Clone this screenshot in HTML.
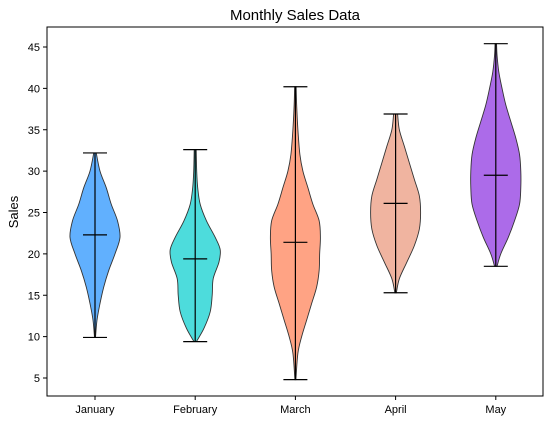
<!DOCTYPE html>
<html><head><meta charset="utf-8"><style>
body{margin:0;background:#fff;}
svg text{font-family:"Liberation Sans",sans-serif;}
</style></head><body>
<svg id="chart" width="551" height="422" xmlns="http://www.w3.org/2000/svg">
<rect x="0" y="0" width="551" height="422" fill="#fff"/>
<text x="295" y="20" text-anchor="middle" font-size="15" fill="#000">Monthly Sales Data</text>
<text transform="translate(18,212) rotate(-90)" text-anchor="middle" font-size="13">Sales</text>
<g id="plot"></g>
</svg>
<script>
const categories=["January","February","March","April","May"];
const colors=["#61b0fe","#4ddcdc","#ffa384","#f0b4a0","#ac6be9"];
const mins=[9.9,9.4,4.8,15.3,18.5];
const maxs=[32.2,32.6,40.2,36.9,45.4];
const means=[22.3,19.4,21.4,26.1,29.5];
const yTicks=[5,10,15,20,25,30,35,40,45];
const profVals=[
[9.9,12,14,16,18,20,22,24,26,28,30,32.2],
[9.4,11,13,15,17,19,20.5,22,24,26,28,30,32.6],
[4.8,8,10,12,14,16,18,20,22,24,26,28,30,32,35,38,40.2],
[15.3,17,19,21,23,25,27,29,31,33,35,36.9],
[18.5,20,22,24,26,28,30,32,34,36,38,40,42,44,45.4]];
const profW=[
[0.02,0.08,0.2,0.35,0.55,0.8,1,0.9,0.65,0.45,0.2,0.05],
[0.05,0.35,0.6,0.68,0.72,0.95,1,0.8,0.45,0.2,0.1,0.06,0.04],
[0.02,0.1,0.25,0.45,0.65,0.85,0.95,0.97,1,0.95,0.7,0.5,0.3,0.18,0.1,0.05,0.03],
[0.03,0.15,0.45,0.75,0.95,1,0.95,0.75,0.55,0.35,0.15,0.08],
[0.05,0.2,0.5,0.75,0.95,1,1,0.95,0.8,0.6,0.4,0.25,0.12,0.05,0.03]];
const L=47,R=543,T=27,B=396;
const y=v=>378-(v-5)*8.275;
const x=i=>95+i*100.2;
const HW=25;
const NS="http://www.w3.org/2000/svg";
const plot=document.getElementById('plot');
function mk(t,a){const e=document.createElementNS(NS,t);for(const k in a)e.setAttribute(k,a[k]);plot.appendChild(e);return e;}
function spline(pts){let d="M"+pts[0][0]+","+pts[0][1];for(let i=0;i<pts.length-1;i++){const p0=pts[Math.max(0,i-1)],p1=pts[i],p2=pts[i+1],p3=pts[Math.min(pts.length-1,i+2)];const c1=[p1[0]+(p2[0]-p0[0])/6,p1[1]+(p2[1]-p0[1])/6],c2=[p2[0]-(p3[0]-p1[0])/6,p2[1]-(p3[1]-p1[1])/6];d+=` C${c1[0]},${c1[1]} ${c2[0]},${c2[1]} ${p2[0]},${p2[1]}`;}return d;}
categories.forEach((c,i)=>{
  const cx=x(i);
  const right=profVals[i].map((v,j)=>[cx+profW[i][j]*HW,y(v)]);
  const left=profVals[i].map((v,j)=>[cx-profW[i][j]*HW,y(v)]).reverse();
  const d=spline(right)+" L"+left[0][0]+","+left[0][1]+spline(left).slice(spline(left).indexOf(" C"))+"Z";
  const p=mk('path',{d:d,fill:colors[i],stroke:"#333",'stroke-width':0.9,'fill-opacity':1});
  
  
  const g=[[cx,y(mins[i]),cx,y(maxs[i])],[cx-12,y(mins[i]),cx+12,y(mins[i])],[cx-12,y(maxs[i]),cx+12,y(maxs[i])],[cx-12,y(means[i]),cx+12,y(means[i])]];
  const names=['whisker','min-cap','max-cap','mean-line'];
  g.forEach((s,k)=>{const l=mk('line',{x1:s[0],y1:s[1],x2:s[2],y2:s[3],stroke:"#000",'stroke-width':1.2});
    
    });
  const tk=mk('line',{x1:cx,y1:B,x2:cx,y2:B+4,stroke:"#000"});
  
  
  const t=mk('text',{x:cx,y:B+17,'text-anchor':'middle','font-size':11});t.textContent=c;
  
  
});
yTicks.forEach(v=>{
  const tk=mk('line',{x1:L-4,y1:y(v),x2:L,y2:y(v),stroke:"#000"});
  
  
  const t=mk('text',{x:L-7,y:y(v)+4,'text-anchor':'end','font-size':11});t.textContent=v;
  
  
});
const fr=mk('rect',{x:L,y:T,width:R-L,height:B-T,fill:'none',stroke:'#000','stroke-width':1});


</script>
</body></html>
